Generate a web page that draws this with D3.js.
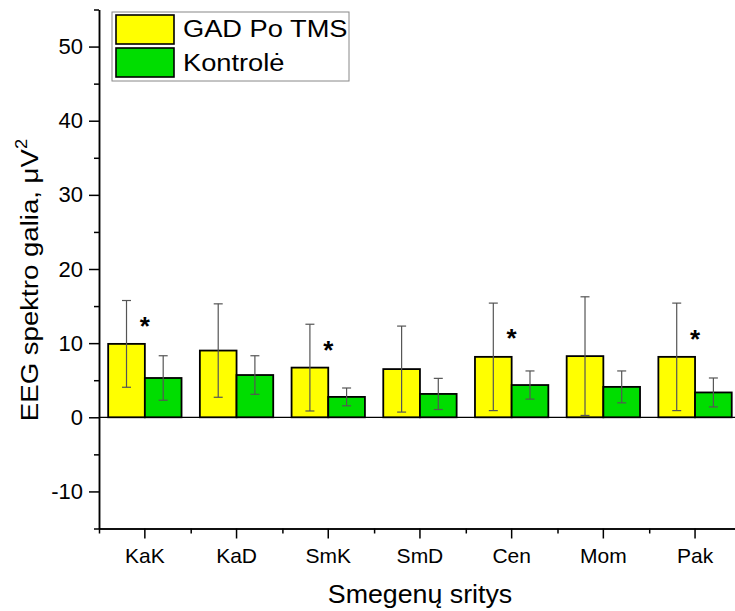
<html>
<head>
    <meta charset="utf-8">
    <title>EEG spektro galia</title>
    <script src="https://cdn.jsdelivr.net/npm/d3@7"></script>
    <style>
        body { margin: 0; background: #fff; }
        svg text { font-family: Arial, 'Liberation Sans', sans-serif; fill: #000; }
    </style>
</head>
<body>
<svg id="chart"></svg>
<script>
    // data
    const categories = ['KaK', 'KaD', 'SmK', 'SmD', 'Cen', 'Mom', 'Pak'];
    const seriesNames = ['GAD Po TMS', 'Kontrolė'];
    const gadMean = [9.9, 9.0, 6.7, 6.5, 8.15, 8.25, 8.15];
    const gadErr  = [5.85, 6.3, 5.85, 5.8, 7.25, 8.0, 7.25];
    const ctrlMean = [5.3, 5.7, 2.75, 3.15, 4.35, 4.1, 3.35];
    const ctrlErr  = [3.0, 2.6, 1.2, 2.1, 1.9, 2.15, 1.95];
    const sigLevel = [13.0, null, 9.8, null, 11.4, null, 11.2]; // where the * sits
    const yTicks = [-10, 0, 10, 20, 30, 40, 50];
    const yMinorTicks = [-15, -5, 5, 15, 25, 35, 45, 55];
    const colors = ['#ffff00', '#00dd00'];

    const W = 735, H = 611;
    const svg = d3.select('#chart').attr('width', W).attr('height', H);

    const mLeft = 99, mBottom = 528.5, mTop = 9.5;

    const y = d3.scaleLinear().domain([-15, 55]).range([mBottom, mTop]);

    // band scale across categories; right end runs past the picture edge
    const x = d3.scaleBand().domain(categories)
        .range([mLeft, mLeft + 7 * 91.7])
        .paddingInner(0.2).paddingOuter(0.1);
    const xSub = d3.scaleBand().domain([0, 1]).range([0, x.bandwidth()]);
    const xEdge = d3.scaleLinear().domain([0, 7]).range([mLeft, mLeft + 7 * 91.7]);

    const rows = categories.map((c, i) => ({
        cat: c,
        vals: [
            {s: 0, m: gadMean[i], e: gadErr[i]},
            {s: 1, m: ctrlMean[i], e: ctrlErr[i]}
        ],
        sig: sigLevel[i]
    }));

    // zero line
    svg.append('line')
        .attr('x1', mLeft).attr('x2', W)
        .attr('y1', y(0)).attr('y2', y(0))
        .attr('stroke', '#000').attr('stroke-width', 1.2);

    const groups = svg.selectAll('g.grp')
        .data(rows)
        .join('g')
        .attr('class', 'grp')
        .attr('transform', d => `translate(${x(d.cat)},0)`);

    groups.selectAll('rect')
        .data(d => d.vals)
        .join('rect')
        .attr('x', d => xSub(d.s))
        .attr('width', xSub.bandwidth())
        .attr('y', d => y(d.m))
        .attr('height', d => y(0) - y(d.m))
        .attr('fill', d => colors[d.s])
        .attr('stroke', '#000')
        .attr('stroke-width', 1.8);

    // error bars
    const eb = groups.selectAll('g.err')
        .data(d => d.vals)
        .join('g')
        .attr('class', 'err')
        .attr('stroke', '#555')
        .attr('stroke-width', 1.2);
    const cx = d => xSub(d.s) + xSub.bandwidth() / 2;
    eb.append('line')
        .attr('x1', cx).attr('x2', cx)
        .attr('y1', d => y(d.m + d.e)).attr('y2', d => y(d.m - d.e));
    eb.append('line')
        .attr('x1', d => cx(d) - 4.5).attr('x2', d => cx(d) + 4.5)
        .attr('y1', d => y(d.m + d.e)).attr('y2', d => y(d.m + d.e));
    eb.append('line')
        .attr('x1', d => cx(d) - 4.5).attr('x2', d => cx(d) + 4.5)
        .attr('y1', d => y(d.m - d.e)).attr('y2', d => y(d.m - d.e));

    // significance stars
    groups.filter(d => d.sig !== null)
        .append('text')
        .attr('x', x.bandwidth() / 2)
        .attr('y', d => y(d.sig) + 14)
        .attr('text-anchor', 'middle')
        .style('font-size', '26px')
        .style('font-weight', 'bold')
        .text('*');

    // y axis
    const yAxis = svg.append('g')
        .attr('transform', `translate(${mLeft},0)`)
        .call(d3.axisLeft(y).tickValues(yTicks).tickSize(10).tickSizeOuter(0)
            .tickPadding(6).tickFormat(d => String(d)));
    yAxis.selectAll('text').style('font-size', '22px');
    svg.append('g')
        .attr('transform', `translate(${mLeft},0)`)
        .call(d3.axisLeft(y).tickValues(yMinorTicks).tickSize(5).tickSizeOuter(0).tickFormat(''));

    // x axis
    const xAxis = svg.append('g')
        .attr('transform', `translate(0,${mBottom})`)
        .call(d3.axisBottom(x).tickSize(10).tickSizeOuter(0).tickPadding(10));
    xAxis.selectAll('text').style('font-size', '21px');
    svg.append('g')
        .attr('transform', `translate(0,${mBottom})`)
        .call(d3.axisBottom(xEdge).tickValues(d3.range(0, 8)).tickSize(5).tickSizeOuter(0).tickFormat(''));

    svg.selectAll('.domain').attr('stroke', '#000').attr('stroke-width', 1.5);
    svg.selectAll('.tick line').attr('stroke', '#000').attr('stroke-width', 1.5);

    // axis titles (the original text is a little stretched sideways)
    svg.append('text')
        .attr('transform', `translate(420,603) scale(1.05,1)`)
        .attr('text-anchor', 'middle')
        .style('font-size', '25.5px')
        .text('Smegenų sritys');

    const yt = svg.append('text')
        .attr('transform', `translate(37.5,280) rotate(-90) scale(1.15,1)`)
        .attr('text-anchor', 'middle')
        .style('font-size', '24px');
    yt.append('tspan').text('EEG spektro galia, μV');
    yt.append('tspan').attr('dy', -11).style('font-size', '16px').text('2');

    // legend
    const lg = svg.append('g').attr('transform', 'translate(112,12)');
    lg.append('rect')
        .attr('width', 237).attr('height', 69)
        .attr('fill', '#fff').attr('stroke', '#888').attr('stroke-width', 1);
    seriesNames.forEach((n, i) => {
        lg.append('rect')
            .attr('x', 4).attr('y', 3 + i * 33)
            .attr('width', 58).attr('height', 29)
            .attr('fill', colors[i]).attr('stroke', '#000').attr('stroke-width', 1.6);
        lg.append('text')
            .attr('transform', `translate(71,${25 + i * 34}) scale(1.16,1)`)
            .style('font-size', '23.5px')
            .text(n);
    });
</script>
</body>
</html>
